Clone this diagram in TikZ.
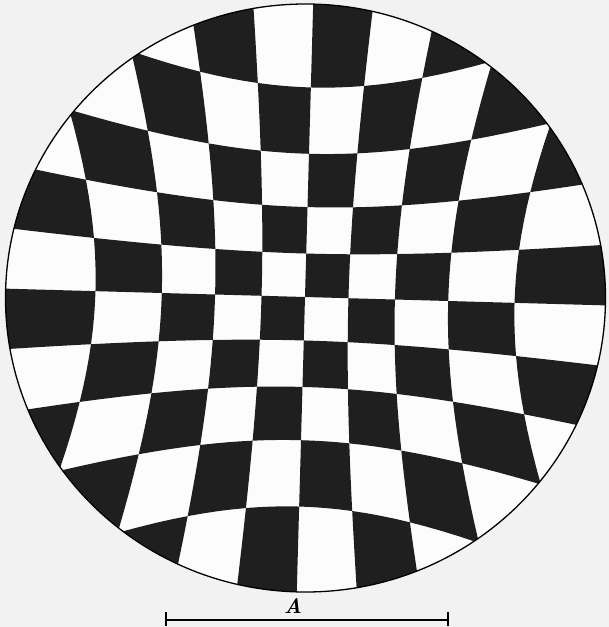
\documentclass[tikz,border=0pt]{standalone}
\usepackage{tikz}
\newcommand\lensI{0}
\newcommand\lensJ{0}
\pgfkeys{/tikz/lens/.cd, i/.store in=\lensI, j/.store in=\lensJ}
\tikzdeclarecoordinatesystem{lens}{%
  \pgfkeys{/tikz/lens/.cd,#1}%
  \pgfmathsetmacro\lensU{(\lensI)*cos(1.6)-(\lensJ)*sin(1.6)}%
  \pgfmathsetmacro\lensV{(\lensI)*sin(1.6)+(\lensJ)*cos(1.6)}%
  \pgfmathsetmacro\lensR{max(veclen(\lensU,\lensV),0.0001)}%
  \pgfmathsetmacro\lensS{239*tan(10.3132*\lensR)/\lensR}%
  \pgfmathsetmacro\lensX{305+\lensU*\lensS}%
  \pgfmathsetmacro\lensY{297+\lensV*\lensS}%
  \pgfpointxy{\lensX}{\lensY}%
}
\tikzset{
  darkcell/.style={fill=black!88},
  rim/.style={draw=black, line width=1.3pt},
  scalebar/.style={draw=black, line width=1.1pt},
  barlabel/.style={font=\fontsize{21}{24}\selectfont\bfseries\itshape, inner sep=0pt}
}
\begin{document}
\begin{tikzpicture}[x=1pt,y=-1pt]
\useasboundingbox (0,0) rectangle (609,627);
\fill[black!5] (0,0) rectangle (609,627);
\coordinate (ctr) at (305.5,298);
\fill[black!1] (ctr) ellipse [x radius=300, y radius=294];
\begin{scope}
  \clip (ctr) ellipse [x radius=300, y radius=294];
  \foreach \i in {-5,...,4}{
    \foreach \j in {-5,...,4}{
      \pgfmathtruncatemacro\cellpar{mod(\i+\j+20,2)}
      \ifnum\cellpar=1
        \fill[darkcell] (lens cs:i=\i,j=\j)
          \foreach \t in {0.25,0.5,0.75,1} { -- (lens cs:i=\i+\t,j=\j) }
          \foreach \t in {0.25,0.5,0.75,1} { -- (lens cs:i=\i+1,j=\j+\t) }
          \foreach \t in {0.25,0.5,0.75,1} { -- (lens cs:i=\i+1-\t,j=\j+1) }
          \foreach \t in {0.25,0.5,0.75} { -- (lens cs:i=\i,j=\j+1-\t) } -- cycle;
      \fi
    }
  }
\end{scope}
\draw[rim] (ctr) ellipse [x radius=300, y radius=294];
% scale bar
\coordinate (barL) at (166,620);
\coordinate (barR) at (448,620);
\coordinate (barLt) at (166,612);
\coordinate (barLb) at (166,626);
\coordinate (barRt) at (448,612);
\coordinate (barRb) at (448,626);
\draw[scalebar] (barL) -- (barR);
\draw[scalebar] (barLt) -- (barLb);
\draw[scalebar] (barRt) -- (barRb);
\node[barlabel, anchor=base] (lblA) at (293,613) {A};
\end{tikzpicture}
\end{document}
